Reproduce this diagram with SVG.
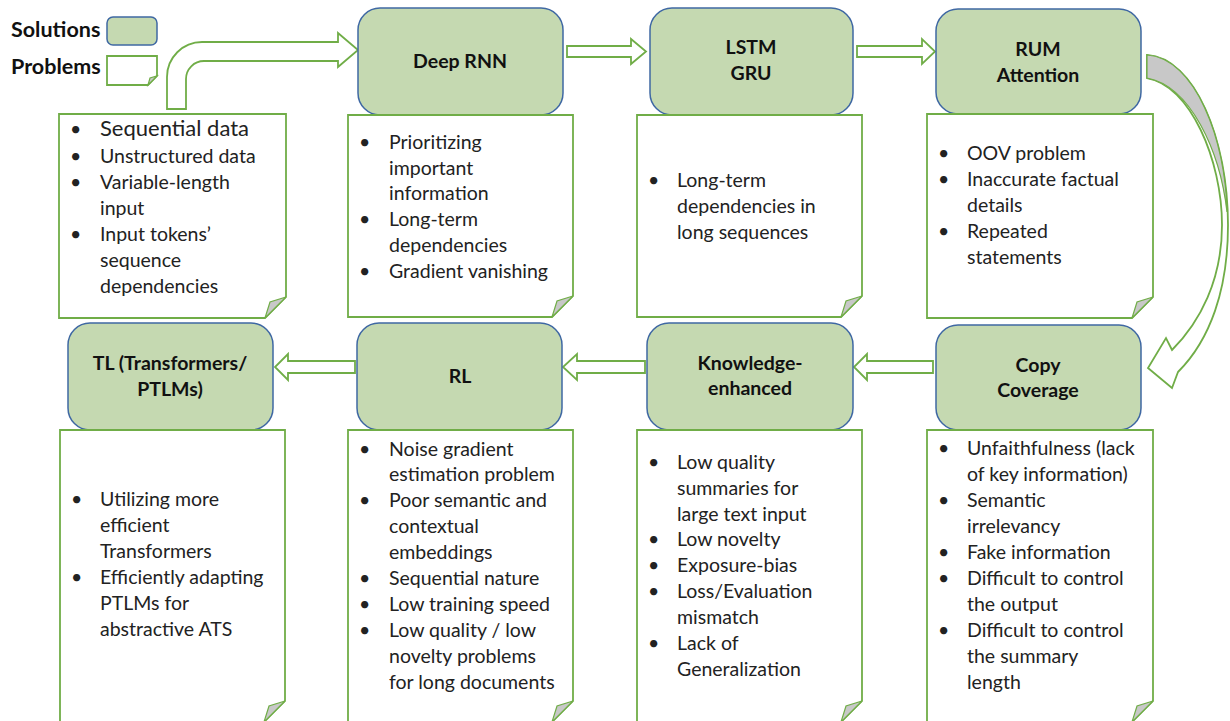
<svg xmlns="http://www.w3.org/2000/svg" width="1230" height="721" viewBox="0 0 1230 721">
  <style>
    .sol { fill: #c5d9b1; stroke: #3f68a3; stroke-width: 1.5; }
    .prob { fill: #ffffff; stroke: #70ad47; stroke-width: 1.8; }
    .fold { fill: #c8c8c8; stroke: #70ad47; stroke-width: 1.2; }
    .arr { fill: #ffffff; stroke: #70ad47; stroke-width: 1.8; stroke-linejoin: miter; }
    .ttl { font-family: Lato, "Open Sans", sans-serif; font-weight: bold; font-size: 19.5px; fill: #111111; text-anchor: middle; }
    .txt { font-family: Lato, "Open Sans", sans-serif; font-size: 19.5px; fill: #222222; }
    .big { font-size: 22px; }
    .leg { font-family: Lato, "Open Sans", sans-serif; font-weight: bold; font-size: 21.5px; fill: #111111; }
  </style>
  <rect width="1230" height="721" fill="#ffffff"/>

  <!-- legend -->
  <g id="legend">
    <text class="leg" x="11" y="37">Solutions</text>
    <rect class="sol" x="107" y="17" width="50" height="28" rx="6"/>
    <text class="leg" x="11" y="74">Problems</text>
    <path class="prob" d="M107,56 H157 V76 L148,85 H107 Z"/>
    <path class="fold" d="M148,85 L157,76 L150,78 Z"/>
  </g>

  <!-- connectors -->
  <g id="connectors">
    <path class="arr" d="M167,109 L167,77 A35,35 0 0 1 202,42 L338,42 L338,33 L358,50 L338,67 L338,61 L204,61 A18,18 0 0 0 186,79 L186,109 Z"/>
    <path class="arr" d="M567,46 H631 V39 L646,51.5 L631,64 V57 H567 Z"/>
    <path class="arr" d="M857,46 H922 V39 L935,51.5 L922,64 V57 H857 Z"/>
    <path class="arr" d="M1147,55 C1195,58 1228,140 1228,225 C1228,290 1210,340 1178,372 L1172,388 L1148,368 L1166,338 L1172,350 C1200,322 1222,280 1222,225 C1222,160 1190,85 1147,78 Z"/>
    <path class="fold" d="M1147,55 C1195,58 1226,140 1227,212 C1220,150 1190,86 1147,78 Z"/>
    <path class="arr" d="M933,361 H867 V354 L854,367 L867,380 V373 H933 Z"/>
    <path class="arr" d="M645,361 H577 V354 L563,367 L577,380 V373 H645 Z"/>
    <path class="arr" d="M355,361 H288 V354 L275,367 L288,380 V373 H355 Z"/>
  </g>

  <!-- top row -->
  <g id="deep-rnn">
    <rect class="sol" x="358" y="8" width="205" height="107" rx="22"/>
    <text class="ttl" x="460" y="68">Deep RNN</text>
  </g>
  <g id="lstm-gru">
    <rect class="sol" x="650" y="8" width="203" height="107" rx="22"/>
    <text class="ttl" x="751" y="54">LSTM</text>
    <text class="ttl" x="751" y="80">GRU</text>
  </g>
  <g id="rum-attention">
    <rect class="sol" x="936" y="9" width="205" height="105" rx="22"/>
    <text class="ttl" x="1038" y="56">RUM</text>
    <text class="ttl" x="1038" y="82">Attention</text>
  </g>

  <g id="problems-input">
    <path class="prob" d="M59,114 H286 V297 L265,318 H59 Z"/>
    <path class="fold" d="M265,318 L286,297 L270,302 Z"/>
    <text class="txt"><tspan x="70" y="136">•</tspan><tspan x="70" y="163">•</tspan><tspan x="70" y="189">•</tspan><tspan x="70" y="241">•</tspan></text>
    <text class="txt"><tspan class="big" x="100" y="136">Sequential data</tspan><tspan x="100" y="163">Unstructured data</tspan><tspan x="100" y="189">Variable-length</tspan><tspan x="100" y="215">input</tspan><tspan x="100" y="241">Input tokens’</tspan><tspan x="100" y="267">sequence</tspan><tspan x="100" y="293">dependencies</tspan></text>
  </g>
  <g id="problems-deep-rnn">
    <path class="prob" d="M348,115 H573 V296 L552,317 H348 Z"/>
    <path class="fold" d="M552,317 L573,296 L557,301 Z"/>
    <text class="txt"><tspan x="359" y="149">•</tspan><tspan x="359" y="226">•</tspan><tspan x="359" y="278">•</tspan></text>
    <text class="txt"><tspan x="389" y="149">Prioritizing</tspan><tspan x="389" y="175">important</tspan><tspan x="389" y="200">information</tspan><tspan x="389" y="226">Long-term</tspan><tspan x="389" y="252">dependencies</tspan><tspan x="389" y="278">Gradient vanishing</tspan></text>
  </g>
  <g id="problems-lstm-gru">
    <path class="prob" d="M637,115 H862 V296 L841,317 H637 Z"/>
    <path class="fold" d="M841,317 L862,296 L846,301 Z"/>
    <text class="txt" x="648" y="187">•</text>
    <text class="txt"><tspan x="677" y="187">Long-term</tspan><tspan x="677" y="213">dependencies in</tspan><tspan x="677" y="239">long sequences</tspan></text>
  </g>
  <g id="problems-rum-attention">
    <path class="prob" d="M927,114 H1153 V297 L1132,318 H927 Z"/>
    <path class="fold" d="M1132,318 L1153,297 L1137,302 Z"/>
    <text class="txt"><tspan x="938" y="160">•</tspan><tspan x="938" y="186">•</tspan><tspan x="938" y="238">•</tspan></text>
    <text class="txt"><tspan x="967" y="160">OOV problem</tspan><tspan x="967" y="186">Inaccurate factual</tspan><tspan x="967" y="212">details</tspan><tspan x="967" y="238">Repeated</tspan><tspan x="967" y="264">statements</tspan></text>
  </g>

  <!-- bottom row -->
  <g id="tl-transformers">
    <rect class="sol" x="68" y="323" width="205" height="107" rx="22"/>
    <text class="ttl" x="170" y="370">TL (Transformers/</text>
    <text class="ttl" x="170" y="396">PTLMs)</text>
  </g>
  <g id="rl">
    <rect class="sol" x="357" y="323" width="205" height="107" rx="22"/>
    <text class="ttl" x="460" y="383">RL</text>
  </g>
  <g id="knowledge-enhanced">
    <rect class="sol" x="647" y="323" width="206" height="107" rx="22"/>
    <text class="ttl" x="750" y="370">Knowledge-</text>
    <text class="ttl" x="750" y="395">enhanced</text>
  </g>
  <g id="copy-coverage">
    <rect class="sol" x="936" y="325" width="205" height="105" rx="22"/>
    <text class="ttl" x="1038" y="372">Copy</text>
    <text class="ttl" x="1038" y="397">Coverage</text>
  </g>

  <g id="problems-tl">
    <path class="prob" d="M60,430 H285 V701 L264,722 H60 Z"/>
    <path class="fold" d="M264,722 L285,701 L269,706 Z"/>
    <text class="txt"><tspan x="71" y="506">•</tspan><tspan x="71" y="584">•</tspan></text>
    <text class="txt"><tspan x="100" y="506">Utilizing more</tspan><tspan x="100" y="532">efficient</tspan><tspan x="100" y="558">Transformers</tspan><tspan x="100" y="584">Efficiently adapting</tspan><tspan x="100" y="610">PTLMs for</tspan><tspan x="100" y="636">abstractive ATS</tspan></text>
  </g>
  <g id="problems-rl">
    <path class="prob" d="M348,430 H573 V701 L552,722 H348 Z"/>
    <path class="fold" d="M552,722 L573,701 L557,706 Z"/>
    <text class="txt"><tspan x="359" y="456">•</tspan><tspan x="359" y="507">•</tspan><tspan x="359" y="585">•</tspan><tspan x="359" y="611">•</tspan><tspan x="359" y="637">•</tspan></text>
    <text class="txt"><tspan x="389" y="456">Noise gradient</tspan><tspan x="389" y="481">estimation problem</tspan><tspan x="389" y="507">Poor semantic and</tspan><tspan x="389" y="533">contextual</tspan><tspan x="389" y="559">embeddings</tspan><tspan x="389" y="585">Sequential nature</tspan><tspan x="389" y="611">Low training speed</tspan><tspan x="389" y="637">Low quality / low</tspan><tspan x="389" y="663">novelty problems</tspan><tspan x="389" y="689">for long documents</tspan></text>
  </g>
  <g id="problems-knowledge">
    <path class="prob" d="M637,430 H862 V701 L841,722 H637 Z"/>
    <path class="fold" d="M841,722 L862,701 L846,706 Z"/>
    <text class="txt"><tspan x="648" y="469">•</tspan><tspan x="648" y="546">•</tspan><tspan x="648" y="572">•</tspan><tspan x="648" y="598">•</tspan><tspan x="648" y="650">•</tspan></text>
    <text class="txt"><tspan x="677" y="469">Low quality</tspan><tspan x="677" y="495">summaries for</tspan><tspan x="677" y="521">large text input</tspan><tspan x="677" y="546">Low novelty</tspan><tspan x="677" y="572">Exposure-bias</tspan><tspan x="677" y="598">Loss/Evaluation</tspan><tspan x="677" y="624">mismatch</tspan><tspan x="677" y="650">Lack of</tspan><tspan x="677" y="676">Generalization</tspan></text>
  </g>
  <g id="problems-copy">
    <path class="prob" d="M927,430 H1153 V701 L1132,722 H927 Z"/>
    <path class="fold" d="M1132,722 L1153,701 L1137,706 Z"/>
    <text class="txt"><tspan x="938" y="455">•</tspan><tspan x="938" y="507">•</tspan><tspan x="938" y="559">•</tspan><tspan x="938" y="585">•</tspan><tspan x="938" y="637">•</tspan></text>
    <text class="txt"><tspan x="967" y="455">Unfaithfulness (lack</tspan><tspan x="967" y="481">of key information)</tspan><tspan x="967" y="507">Semantic</tspan><tspan x="967" y="533">irrelevancy</tspan><tspan x="967" y="559">Fake information</tspan><tspan x="967" y="585">Difficult to control</tspan><tspan x="967" y="611">the output</tspan><tspan x="967" y="637">Difficult to control</tspan><tspan x="967" y="663">the summary</tspan><tspan x="967" y="689">length</tspan></text>
  </g>
</svg>
